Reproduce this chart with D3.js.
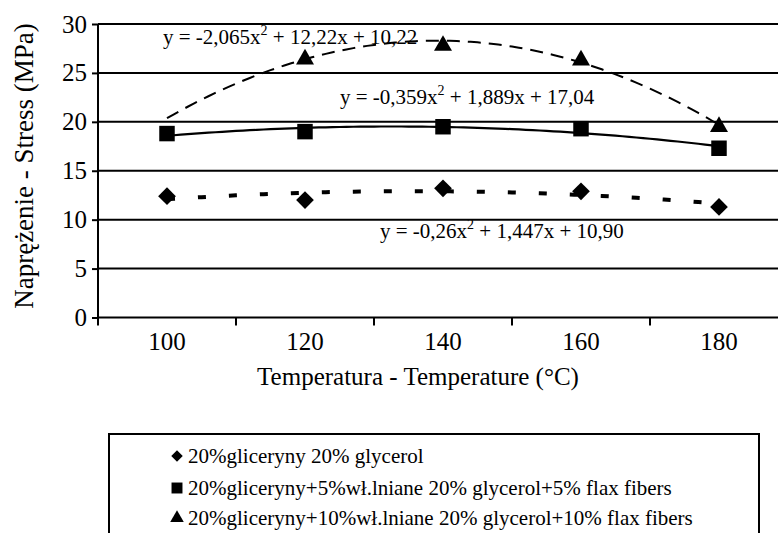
<!DOCTYPE html>
<html><head><meta charset="utf-8">
<script src="https://cdn.jsdelivr.net/npm/d3@7"></script>
<style>
html,body{margin:0;padding:0;background:#fff;}
svg text{font-family:"Liberation Serif","Tinos","Times New Roman","Nimbus Roman","DejaVu Serif",serif !important;}
</style></head>
<body><svg id="c" width="778" height="533"></svg>
<script>
const categories = [100, 120, 140, 160, 180];
const glycerol = [12.4, 12.0, 13.2, 12.9, 11.3];
const flax5 = [18.8, 19.0, 19.5, 19.3, 17.3];
const flax10 = [null, 26.4, 27.8, 26.3, 19.5];
const yTicks = [0, 5, 10, 15, 20, 25, 30];
// trendline coefficients (a, b, c) of y = a x^2 + b x + c, x = category index 1..5
const trendGlycerol = [-0.26, 1.447, 10.90];
const trend5 = [-0.359, 1.889, 17.04];
const trend10 = [-2.065, 12.22, 10.22];
const eqLabels = ["y = -0,26x", "y = -0,359x", "y = -2,065x"];
const eqRest = [" + 1,447x + 10,90", " + 1,889x + 17,04", " + 12,22x + 10,22"];
const legendLabels = [
  "20%gliceryny 20%  glycerol",
  "20%gliceryny+5%wł.lniane 20%  glycerol+5%  flax fibers",
  "20%gliceryny+10%wł.lniane 20%  glycerol+10%  flax fibers"
];
const xTitle = "Temperatura - Temperature (°C)";
const yTitle = "Naprężenie - Stress (MPa)";

const svg = d3.select("#c");
const L = 98, T = 24, B = 317.5, R = 788;
const x = d3.scaleBand().domain(categories).range([L, R]).padding(0);
const y = d3.scaleLinear().domain([0, 30]).range([B, T]);
const xc = d => x(d) + x.bandwidth() / 2;

// gridlines
svg.append("g").selectAll("line").data(yTicks.filter(t => t > 0)).join("line")
  .attr("x1", L).attr("x2", R).attr("y1", d => y(d)).attr("y2", d => y(d))
  .attr("stroke", "#000").attr("stroke-width", 2);

// y axis
const gy = svg.append("g").attr("transform", `translate(${L},0)`)
  .call(d3.axisLeft(y).tickValues(yTicks).tickSize(6).tickPadding(5));
gy.select(".domain").attr("stroke-width", 2).attr("d", `M0,${y(30)}V${y(0)}`);
gy.selectAll(".tick line").attr("stroke-width", 2);
gy.selectAll("text").attr("font-size", 25).attr("fill", "#000");

// x axis
const gx = svg.append("g").attr("transform", `translate(0,${B})`)
  .call(d3.axisBottom(x).tickSize(0).tickPadding(15));
gx.select(".domain").attr("stroke-width", 2).attr("d", `M${L},0H${R}`);
gx.selectAll("text").attr("font-size", 25).attr("fill", "#000");
// x ticks at category boundaries
svg.append("g").selectAll("line").data(categories).join("line")
  .attr("x1", d => x(d)).attr("x2", d => x(d)).attr("y1", B).attr("y2", B + 8)
  .attr("stroke", "#000").attr("stroke-width", 2);

// trendlines
const idxScale = d3.scaleLinear().domain([1, categories.length]).range([xc(categories[0]), xc(categories[categories.length - 1])]);
function trendPts(c) {
  const pts = [];
  for (let i = 0; i <= 80; i++) {
    const t = 1 + i * (categories.length - 1) / 80;
    pts.push([idxScale(t), y(c[0] * t * t + c[1] * t + c[2])]);
  }
  return pts;
}
const line = d3.line();
svg.append("path").attr("d", line(trendPts(trendGlycerol))).attr("fill", "none")
  .attr("stroke", "#000").attr("stroke-width", 4).attr("stroke-dasharray", "8 23");
svg.append("path").attr("d", line(trendPts(trend5))).attr("fill", "none")
  .attr("stroke", "#000").attr("stroke-width", 2.2);
svg.append("path").attr("d", line(trendPts(trend10))).attr("fill", "none")
  .attr("stroke", "#000").attr("stroke-width", 2).attr("stroke-dasharray", "13 8");

// markers
const diamond = d3.symbolDiamond2 || d3.symbolDiamond;
const sym = (type, size) => d3.symbol().type(type).size(size)();
function markers(data, type, size) {
  svg.append("g").selectAll("path").data(categories.map((c, i) => [c, data[i]]).filter(d => d[1] != null))
    .join("path").attr("d", sym(type, size))
    .attr("transform", d => `translate(${xc(d[0])},${y(d[1])})`).attr("fill", "#000");
}
markers(glycerol, diamond, 200);
markers(flax5, d3.symbolSquare, 240);
markers(flax10, d3.symbolTriangle, 140);

// equation labels
const eqPos = [[380, 238], [340, 104], [163, 44]];
eqLabels.forEach((s, i) => {
  const t = svg.append("text").attr("x", eqPos[i][0]).attr("y", eqPos[i][1]).attr("font-size", 21).attr("fill", "#000");
  t.append("tspan").text(s);
  t.append("tspan").attr("dy", -9).attr("font-size", 14).text("2");
  t.append("tspan").attr("dy", 9).text(eqRest[i]);
});

// axis titles
svg.append("text").attr("x", 418).attr("y", 385).attr("text-anchor", "middle").attr("font-size", 25).text(xTitle);
svg.append("text").attr("transform", "translate(33,166) rotate(-90)").attr("text-anchor", "middle").attr("font-size", 27).text(yTitle);

// legend
svg.append("rect").attr("x", 109).attr("y", 434).attr("width", 650).attr("height", 120)
  .attr("fill", "none").attr("stroke", "#000").attr("stroke-width", 2);
const legTypes = [[diamond, 85], [d3.symbolSquare, 120], [d3.symbolTriangle, 80]];
const legY = [456, 488, 518];
legendLabels.forEach((s, i) => {
  svg.append("path").attr("d", sym(legTypes[i][0], legTypes[i][1])).attr("transform", `translate(177,${legY[i]})`);
  svg.append("text").attr("x", 188).attr("y", legY[i] + 7).attr("font-size", 21).text(s);
});
</script></body></html>
